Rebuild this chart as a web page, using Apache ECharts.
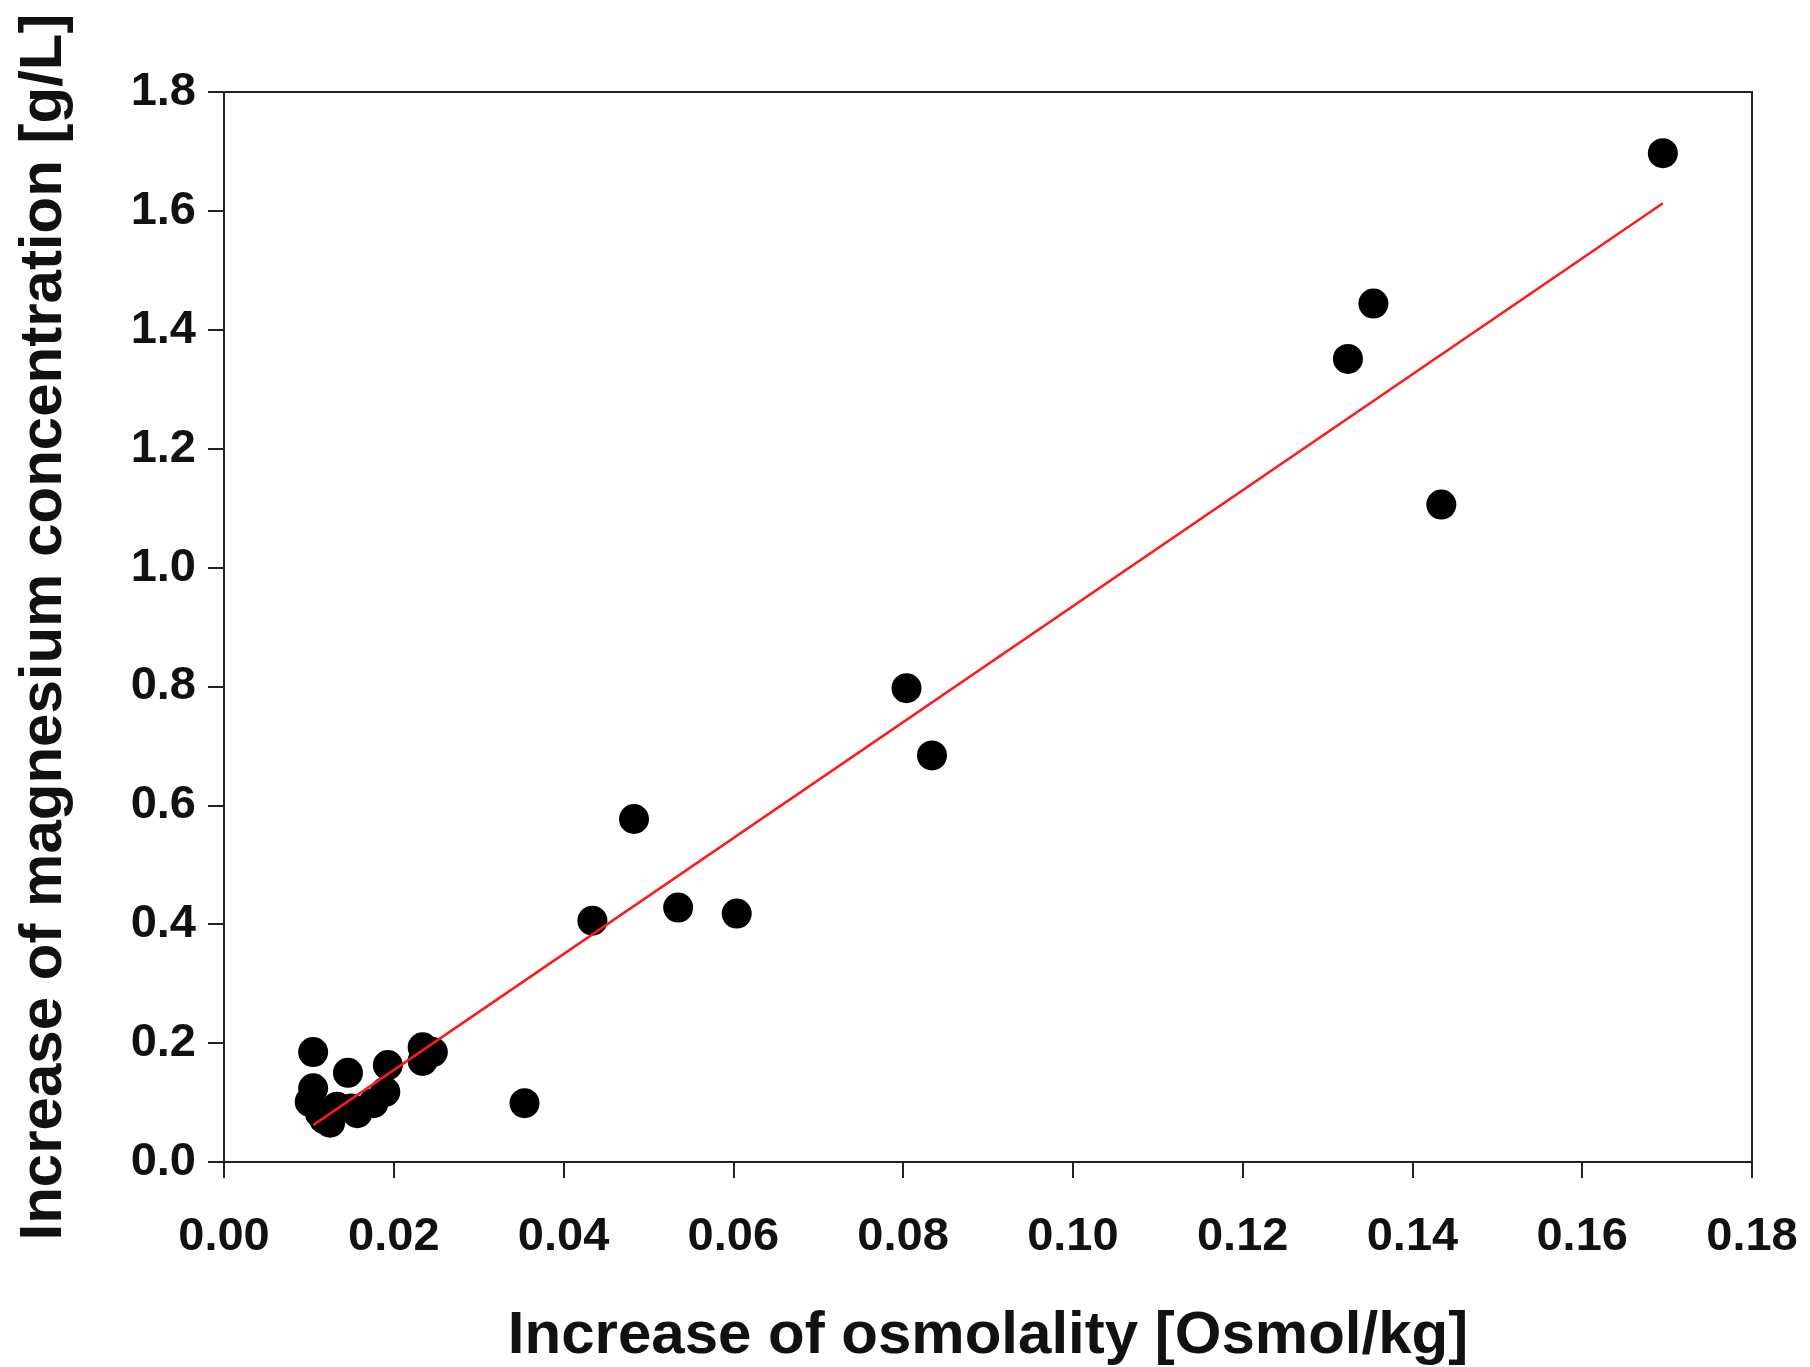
<!DOCTYPE html>
<html>
<head>
<meta charset="utf-8">
<script src="https://cdn.jsdelivr.net/npm/echarts@6/dist/echarts.min.js"></script>
<style>
  html, body { margin: 0; padding: 0; background: #fff; }
  #chart { width: 1810px; height: 1367px; }
</style>
</head>
<body>
<div id="chart"></div>
<script>
// osmolality increase [Osmol/kg]
const osmX = [0.1695, 0.1354, 0.1324, 0.1434, 0.0804, 0.0834, 0.0483, 0.0535, 0.0604, 0.0434, 0.0354,
  0.0105, 0.0146, 0.0193, 0.0234, 0.0246, 0.0234, 0.0105, 0.0101, 0.0113, 0.0125, 0.0133, 0.0157, 0.0176, 0.0190, 0.0118, 0.0150];
// magnesium increase [g/L]
const mgY = [1.697, 1.444, 1.351, 1.106, 0.797, 0.684, 0.577, 0.428, 0.418, 0.406, 0.099,
  0.185, 0.150, 0.163, 0.193, 0.185, 0.170, 0.124, 0.101, 0.082, 0.066, 0.093, 0.082, 0.099, 0.118, 0.072, 0.090];
// regression line end points
const fitX = [0.0105, 0.1695];
const fitY = [0.062, 1.613];

const points = osmX.map((x, i) => [x, mgY[i]]);
const fit = fitX.map((x, i) => [x, fitY[i]]);

const font = "'Liberation Sans', Arial, sans-serif";
const axisCol = '#222';

const chart = echarts.init(document.getElementById('chart'));
chart.setOption({
  animation: false,
  grid: {
    left: 224, right: 58, top: 92, bottom: 205,
    containLabel: false, outerBoundsMode: 'none',
    show: true, borderColor: axisCol, borderWidth: 2
  },
  xAxis: {
    type: 'value', min: 0, max: 0.18, interval: 0.02,
    name: 'Increase of osmolality [Osmol/kg]',
    nameLocation: 'middle', nameGap: 144,
    nameTextStyle: { fontFamily: font, fontWeight: 'bold', fontSize: 60, color: '#111' },
    axisLine: { show: true, onZero: false, lineStyle: { color: axisCol, width: 2 } },
    axisTick: { show: true, length: 16, lineStyle: { color: axisCol, width: 2 } },
    axisLabel: {
      margin: 52, fontFamily: font, fontWeight: 'bold', fontSize: 47, color: '#111',
      formatter: v => v.toFixed(2)
    },
    splitLine: { show: false }
  },
  yAxis: {
    type: 'value', min: 0, max: 1.8, interval: 0.2,
    name: 'Increase of magnesium concentration [g/L]',
    nameLocation: 'middle', nameGap: 150,
    nameTextStyle: { fontFamily: font, fontWeight: 'bold', fontSize: 60, color: '#111' },
    axisLine: { show: true, onZero: false, lineStyle: { color: axisCol, width: 2 } },
    axisTick: { show: true, length: 16, lineStyle: { color: axisCol, width: 2 } },
    axisLabel: {
      margin: 28, fontFamily: font, fontWeight: 'bold', fontSize: 47, color: '#111',
      formatter: v => v.toFixed(1)
    },
    splitLine: { show: false }
  },
  series: [
    {
      type: 'line',
      data: fit,
      symbol: 'none',
      lineStyle: { color: '#ff1a1a', width: 2.5 },
      z: 3
    },
    {
      type: 'scatter',
      data: points,
      symbolSize: 30,
      itemStyle: { color: '#000', opacity: 1 },
      z: 2
    }
  ]
});
</script>
</body>
</html>
